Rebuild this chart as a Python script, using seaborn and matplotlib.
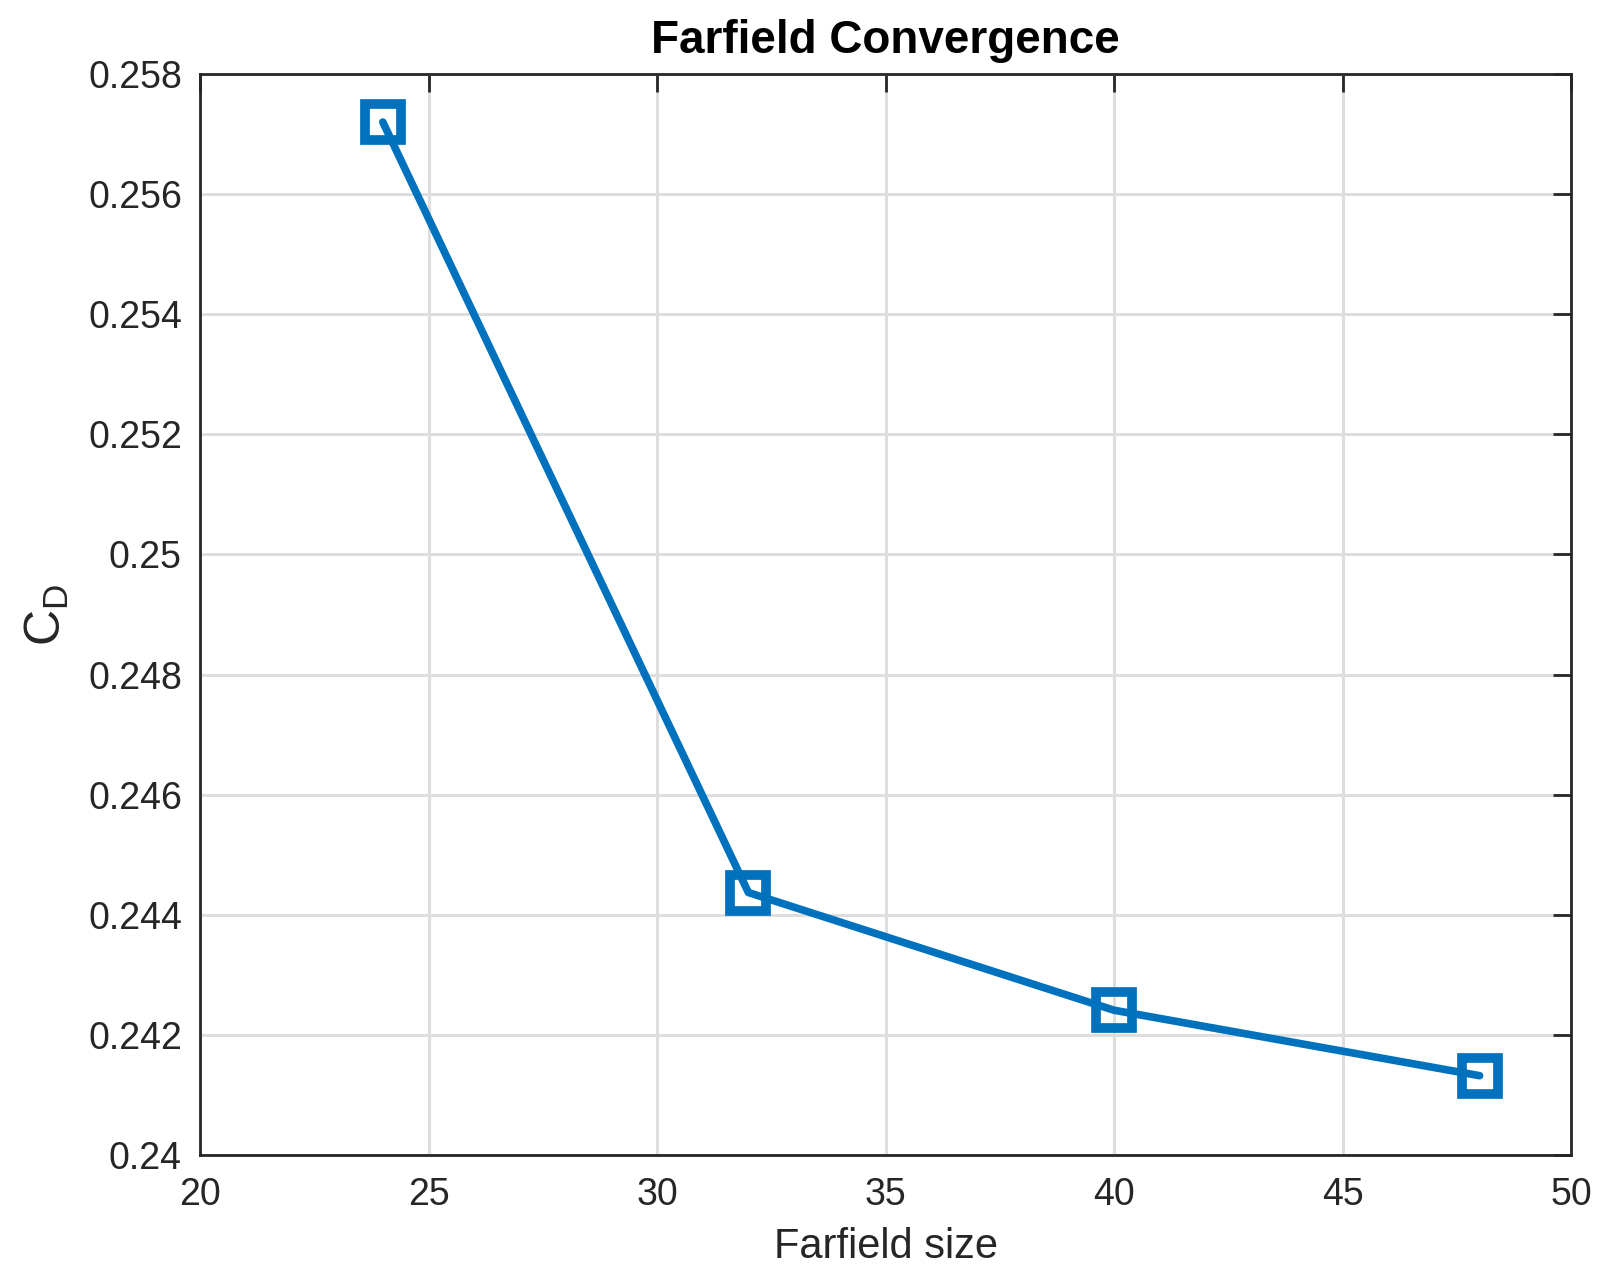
import matplotlib
matplotlib.use('Agg')
import matplotlib.pyplot as plt
import seaborn as sns
import pandas as pd

# dados
farfield_size = [24, 32, 40, 48]
cd_values = [0.25720, 0.24437, 0.24241, 0.24132]

df = pd.DataFrame({'farfield': farfield_size, 'cd': cd_values})

sns.set_style('whitegrid')
plt.rcParams['font.family'] = ['Liberation Sans', 'DejaVu Sans']

fig = plt.figure(figsize=(16.09, 12.85), dpi=100)
ax = fig.add_axes([0.1243, 0.1012, 0.8521, 0.8412])

sns.lineplot(x='farfield', y='cd', data=df, ax=ax, color='#0072BD', linewidth=5.5,
             marker='s', markersize=26, markerfacecolor='none',
             markeredgecolor='#0072BD', markeredgewidth=7)

ax.set_xlim(20, 50)
ax.set_ylim(0.24, 0.258)
ax.set_xticks([20, 25, 30, 35, 40, 45, 50])
ax.set_yticks([0.24, 0.242, 0.244, 0.246, 0.248, 0.25, 0.252, 0.254, 0.256, 0.258])
ax.set_yticklabels(['0.24', '0.242', '0.244', '0.246', '0.248', '0.25', '0.252', '0.254', '0.256', '0.258'])

ax.grid(True, color='#dedede', linewidth=2.2)
ax.tick_params(axis='both', which='both', direction='in', length=13, width=2,
               top=True, right=True, labelsize=27, colors='#262626')
ax.tick_params(axis='x', pad=16)
ax.tick_params(axis='y', pad=13)
for s in ax.spines.values():
    s.set_visible(True)
    s.set_color('#262626')
    s.set_linewidth(2)

ax.set_title('Farfield Convergence', fontsize=33, fontweight='bold', color='black', pad=15)
ax.set_xlabel('Farfield size', fontsize=30, color='#262626', labelpad=10)
ax.set_ylabel('$\\mathregular{C_D}$', fontsize=36, color='#262626', labelpad=12)

fig.savefig('out.png', dpi=100)
